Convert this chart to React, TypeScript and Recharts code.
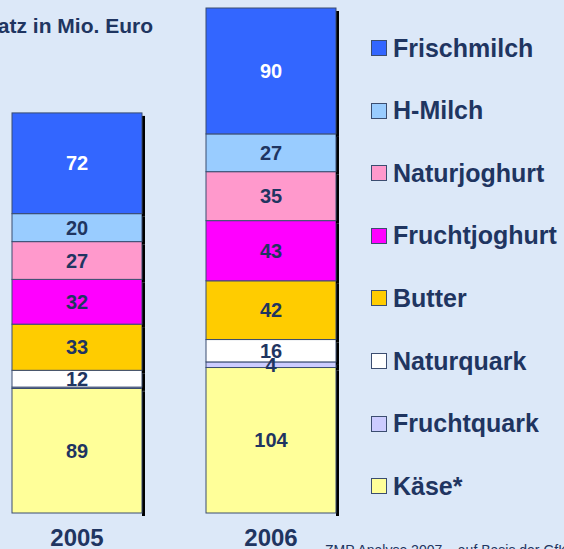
import React from 'react'
import { BarChart, Bar, XAxis, YAxis, LabelList } from 'recharts'

const years = ['2005', '2006']
const kaese = [89, 104]
const fruchtquark = [1, 4]
const naturquark = [12, 16]
const butter = [33, 42]
const fruchtjoghurt = [32, 43]
const naturjoghurt = [27, 35]
const hMilch = [20, 27]
const frischmilch = [72, 90]

const FONT = '"Liberation Sans", Arial, sans-serif'
const NAVY = '#1f3561'
const BG = '#dce8f8'

// stacked bottom to top
const series = [
  { key: 'kaese', name: 'Käse*', color: '#ffff99', values: kaese, label: NAVY },
  { key: 'fruchtquark', name: 'Fruchtquark', color: '#ccccff', values: fruchtquark, label: NAVY },
  { key: 'naturquark', name: 'Naturquark', color: '#ffffff', values: naturquark, label: NAVY },
  { key: 'butter', name: 'Butter', color: '#ffcc00', values: butter, label: NAVY },
  { key: 'fruchtjoghurt', name: 'Fruchtjoghurt', color: '#ff00ff', values: fruchtjoghurt, label: NAVY },
  { key: 'naturjoghurt', name: 'Naturjoghurt', color: '#ff99cc', values: naturjoghurt, label: NAVY },
  { key: 'hMilch', name: 'H-Milch', color: '#99ccff', values: hMilch, label: NAVY },
  { key: 'frischmilch', name: 'Frischmilch', color: '#3366ff', values: frischmilch, label: '#ffffff' },
]

const data = years.map((year, i) => {
  const row: Record<string, string | number> = { year }
  series.forEach((s) => {
    row[s.key] = s.values[i]
  })
  return row
})

const ShadowBar = (props: any) => {
  const { x, y, width, height, fill } = props
  if (!height) return null
  return (
    <g>
      <rect x={x + width} y={y + 3} width={3} height={height} fill="#000" />
      <rect x={x} y={y} width={width} height={height} fill={fill} stroke="#3b4d70" strokeWidth={1} />
    </g>
  )
}

const makeLabel = (color: string) => (props: any) => {
  const { x, y, width, height, value } = props
  if (value < 3) return null
  return (
    <text
      x={x + width / 2}
      y={y + height / 2}
      textAnchor="middle"
      dominantBaseline="central"
      fill={color}
      fontFamily={FONT}
      fontWeight="bold"
      fontSize={20}
    >
      {value}
    </text>
  )
}

export default function App() {
  const legend = [...series].reverse()
  return (
    <div
      style={{
        position: 'absolute',
        left: 0,
        top: 0,
        width: 564,
        height: 549,
        overflow: 'hidden',
        background: BG,
        fontFamily: FONT,
      }}
    >
      <div
        style={{
          position: 'absolute',
          right: 564 - 153,
          top: 14,
          whiteSpace: 'nowrap',
          fontSize: 21,
          fontWeight: 'bold',
          color: NAVY,
          lineHeight: '24px',
        }}
      >
        Umsatz in Mio. Euro
      </div>

      <div style={{ position: 'absolute', left: -20, top: 0 }}>
        <BarChart
          width={584}
          height={549}
          data={data}
          margin={{ top: 8, right: 196, left: 0, bottom: 0 }}
          barSize={130}
        >
          <XAxis
            dataKey="year"
            axisLine={false}
            tickLine={false}
            height={36}
            tickMargin={10}
            tick={{ fill: NAVY, fontSize: 24, fontWeight: 'bold', fontFamily: FONT }}
          />
          <YAxis hide domain={[0, 361]} />
          {series.map((s) => (
            <Bar
              key={s.key}
              dataKey={s.key}
              name={s.name}
              stackId="a"
              fill={s.color}
              shape={ShadowBar}
              isAnimationActive={false}
            >
              <LabelList dataKey={s.key} content={makeLabel(s.label)} />
            </Bar>
          ))}
        </BarChart>
      </div>

      {legend.map((s, i) => {
        const cy = 48 + i * 62.6
        return (
          <div
            key={s.key}
            style={{
              position: 'absolute',
              left: 371,
              top: cy - 15,
              height: 30,
              display: 'flex',
              alignItems: 'center',
              whiteSpace: 'nowrap',
            }}
          >
            <span
              style={{
                display: 'inline-block',
                width: 14,
                height: 14,
                background: s.color,
                border: '1px solid #3b4d70',
                marginRight: 6,
              }}
            />
            <span style={{ fontSize: 25, fontWeight: 'bold', color: NAVY }}>{s.name}</span>
          </div>
        )
      })}

      <div
        style={{
          position: 'absolute',
          left: 325,
          top: 542,
          whiteSpace: 'nowrap',
          fontSize: 14,
          color: NAVY,
          lineHeight: '16px',
        }}
      >
        ZMP Analyse 2007 – auf Basis der GfK
      </div>
    </div>
  )
}
